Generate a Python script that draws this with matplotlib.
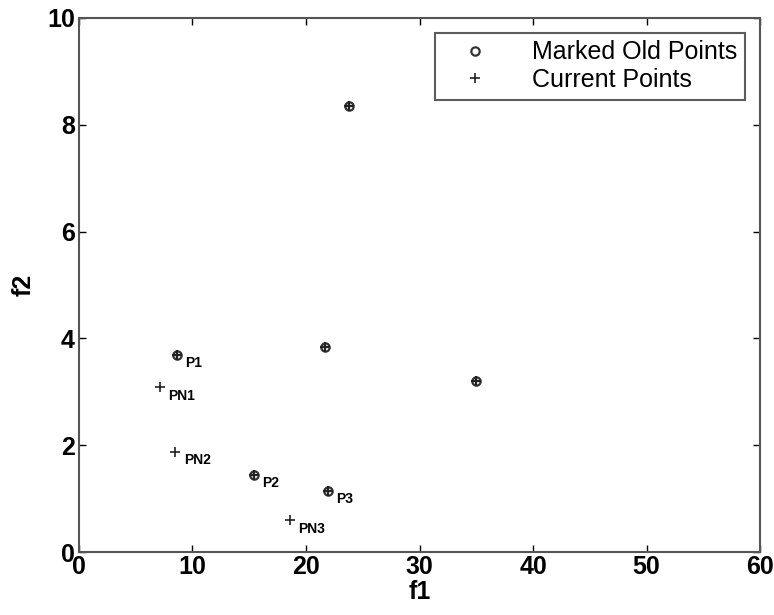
import matplotlib.pyplot as plt

plt.rcParams['font.family'] = ['Liberation Sans', 'DejaVu Sans']

# marked old points (drawn as circle with a plus on top)
old_f1 = [8.6, 15.4, 21.9, 21.7, 23.8, 35.0]
old_f2 = [3.70, 1.45, 1.15, 3.85, 8.35, 3.20]
old_labels = ['P1', 'P2', 'P3', '', '', '']

# current points (plus only)
cur_f1 = [7.1, 8.5, 18.6]
cur_f2 = [3.09, 1.88, 0.60]
cur_labels = ['PN1', 'PN2', 'PN3']

fig = plt.figure(figsize=(7.74, 6.15), dpi=100)
ax = fig.add_axes([0.102, 0.102, 0.880, 0.869])

ax.plot(old_f1, old_f2, 'o', mfc='none', mec='#333333', ms=6, mew=1.6,
        label='Marked Old Points')
ax.plot(cur_f1, cur_f2, '+', color='#222222', ms=7, mew=1.2,
        label='Current Points')
ax.plot(old_f1, old_f2, '+', color='#222222', ms=7, mew=1.6)

for x, y, t in zip(old_f1, old_f2, old_labels):
    if t:
        ax.annotate(t, (x, y), xytext=(6, -9), textcoords='offset points',
                    fontsize=10, fontweight='bold')
for x, y, t in zip(cur_f1, cur_f2, cur_labels):
    ax.annotate(t, (x, y), xytext=(6, -9), textcoords='offset points',
                fontsize=10, fontweight='bold')

ax.set_xlim(0, 60)
ax.set_ylim(0, 10)
ax.set_xticks(range(0, 61, 10))
ax.set_yticks(range(0, 11, 2))
ax.tick_params(direction='in', length=5, width=1, labelsize=18, top=True, right=True)
ax.tick_params(axis='x', pad=2)
ax.tick_params(axis='y', pad=3)
for lbl in ax.get_xticklabels() + ax.get_yticklabels():
    lbl.set_fontweight('bold')
for s in ax.spines.values():
    s.set_color('#555555')
    s.set_linewidth(1.5)

ax.set_xlabel('f1', fontsize=18, fontweight='bold', labelpad=1)
ax.set_ylabel('f2', fontsize=18, fontweight='bold', labelpad=8)

leg = ax.legend(loc='upper right', fontsize=18, frameon=True, fancybox=False,
                edgecolor='#333333', handletextpad=1.0, borderaxespad=0.6,
                borderpad=0.3, labelspacing=0.15, handlelength=2.6)
leg.get_frame().set_linewidth(1.5)

fig.savefig('out.png', dpi=100)
